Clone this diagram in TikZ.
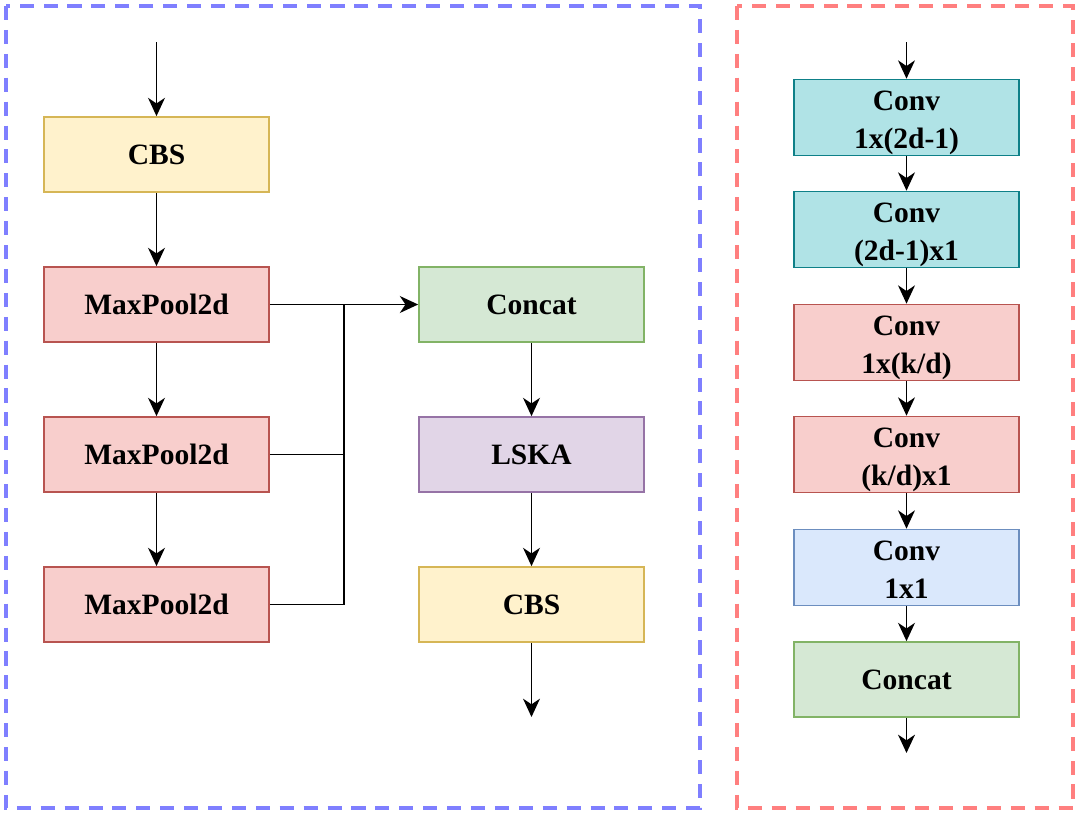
\documentclass[tikz,border=0pt]{standalone}
\usepackage{fontspec}
\setmainfont{Liberation Serif}
\usetikzlibrary{arrows.meta}
\definecolor{yfill}{HTML}{FFF2CC}\definecolor{ydraw}{HTML}{D6B656}
\definecolor{rfill}{HTML}{F8CECC}\definecolor{rdraw}{HTML}{B85450}
\definecolor{gfill}{HTML}{D5E8D4}\definecolor{gdraw}{HTML}{82B366}
\definecolor{pfill}{HTML}{E1D5E7}\definecolor{pdraw}{HTML}{9673A6}
\definecolor{tfill}{HTML}{B0E3E6}\definecolor{tdraw}{HTML}{0E8088}
\definecolor{bfill}{HTML}{DAE8FC}\definecolor{bdraw}{HTML}{6C8EBF}
\definecolor{blueframe}{HTML}{7F7FFF}
\definecolor{redframe}{HTML}{FF7F7F}
\newcommand\twolines[2]{\raisebox{-3pt}[\height][\depth]{\begin{tabular}{@{}c@{}}#1\\#2\end{tabular}}}
\tikzset{
  blk/.style={draw, line width=1.2pt, minimum width=225*0.025cm, minimum height=75*0.025cm,
    inner sep=0pt, align=center, font=\fontsize{21}{27}\selectfont\bfseries},
  ybox/.style={blk, fill=yfill, draw=ydraw},
  rbox/.style={blk, fill=rfill, draw=rdraw},
  gbox/.style={blk, fill=gfill, draw=gdraw},
  pbox/.style={blk, fill=pfill, draw=pdraw},
  tbox/.style={blk, fill=tfill, draw=tdraw},
  bbox/.style={blk, fill=bfill, draw=bdraw},
  arr/.style={-{Stealth[length=13pt,width=12pt,inset=4pt]}, line width=1.4pt, black},
  ln/.style={line width=1.4pt, black},
  frame/.style={line width=2.6pt, dash pattern=on 10pt off 7pt}
}
\begin{document}
\begin{tikzpicture}[x=0.025cm,y=-0.025cm]
\useasboundingbox (0,0) rectangle (1080,816);
\draw[frame, blueframe] (6,6) rectangle (700,808);
\draw[frame, redframe] (737,6) rectangle (1073,808);

% left
\node[ybox] (cbs1) at (156.5,154.5) {CBS};
\node[rbox] (mp1) at (156.5,304.5) {MaxPool2d};
\node[rbox] (mp2) at (156.5,454.5) {MaxPool2d};
\node[rbox] (mp3) at (156.5,604.5) {MaxPool2d};
\node[gbox] (cat1) at (531.5,304.5) {Concat};
\node[pbox] (lska) at (531.5,454.5) {LSKA};
\node[ybox] (cbs2) at (531.5,604.5) {CBS};
\coordinate (in1) at (156.5,42);
\coordinate (out1) at (531.5,717);
\coordinate (j1) at (344,304.5);
\coordinate (j2) at (344,454.5);
\coordinate (j3) at (344,604.5);

\draw[arr] (in1) -- (cbs1);
\draw[arr] (cbs1) -- (mp1);
\draw[arr] (mp1) -- (mp2);
\draw[arr] (mp2) -- (mp3);
\draw[arr] (mp1) -- (cat1);
\draw[ln] (mp2.east) -- (j2);
\draw[ln] (mp3.east) -- (j3) -- (j1);
\draw[arr] (cat1) -- (lska);
\draw[arr] (lska) -- (cbs2);
\draw[arr] (cbs2) -- (out1);

% right
\node[tbox] (c1) at (906.5,117.5) {\twolines{Conv}{1x(2d-1)}};
\node[tbox] (c2) at (906.5,229.5) {\twolines{Conv}{(2d-1)x1}};
\node[rbox] (c3) at (906.5,342.5) {\twolines{Conv}{1x(k/d)}};
\node[rbox] (c4) at (906.5,454.5) {\twolines{Conv}{(k/d)x1}};
\node[bbox] (c5) at (906.5,567.5) {\twolines{Conv}{1x1}};
\node[gbox] (cat2) at (906.5,679.5) {Concat};
\coordinate (in2) at (906.5,42);
\coordinate (out2) at (906.5,753);
\draw[arr] (in2) -- (c1);
\draw[arr] (c1) -- (c2);
\draw[arr] (c2) -- (c3);
\draw[arr] (c3) -- (c4);
\draw[arr] (c4) -- (c5);
\draw[arr] (c5) -- (cat2);
\draw[arr] (cat2) -- (out2);
\end{tikzpicture}
\end{document}
